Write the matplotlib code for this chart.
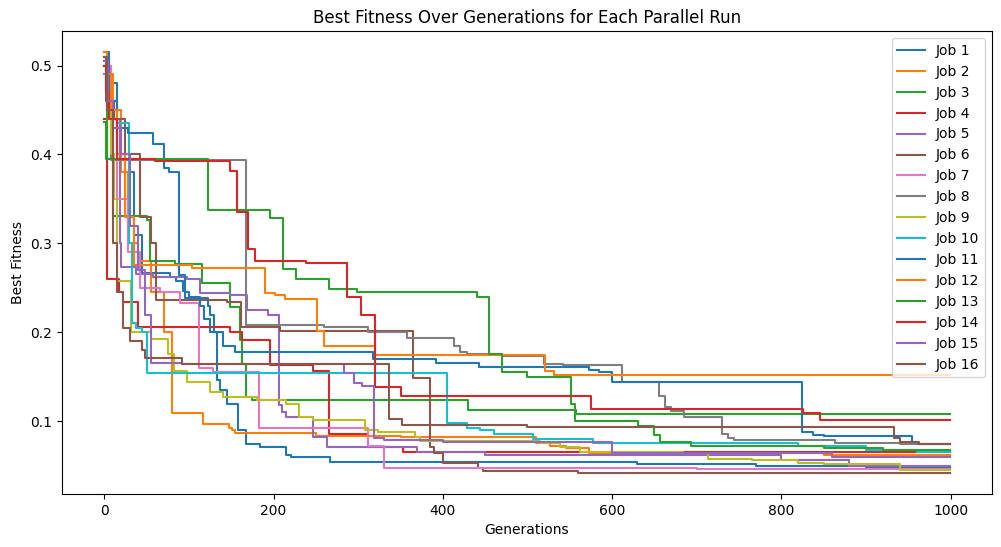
import matplotlib.pyplot as plt

last_gen = 999

# generation at which the best fitness improved, and the new best value
job1_gen = [0, 5, 15, 25, 35, 45, 78, 85, 93, 95, 122, 125, 130, 133, 137, 145, 158, 168, 184, 215, 220, 267, 630, 770, 900]
job1_val = [0.505, 0.48, 0.40, 0.38, 0.31, 0.267, 0.262, 0.258, 0.247, 0.239, 0.23, 0.219, 0.20, 0.146, 0.135, 0.12, 0.09, 0.075, 0.071, 0.062, 0.06, 0.054, 0.052, 0.05, 0.048]

job2_gen = [0, 4, 10, 20, 28, 40, 55, 70, 80, 117, 147, 151, 155, 250, 350, 510, 527, 545, 573, 850]
job2_val = [0.515, 0.49, 0.45, 0.38, 0.30, 0.28, 0.245, 0.20, 0.109, 0.097, 0.093, 0.09, 0.087, 0.084, 0.082, 0.076, 0.072, 0.07, 0.064, 0.062]

job3_gen = [0, 2, 10, 51, 54, 84, 116, 149, 160, 163, 167, 175, 430, 557]
job3_val = [0.436, 0.395, 0.331, 0.326, 0.28, 0.277, 0.255, 0.228, 0.191, 0.165, 0.127, 0.124, 0.113, 0.108]

job4_gen = [0, 3, 17, 22, 40, 149, 163, 196, 246, 266, 312, 353]
job4_val = [0.44, 0.26, 0.245, 0.234, 0.206, 0.20, 0.191, 0.163, 0.157, 0.086, 0.071, 0.066]

job5_gen = [0, 3, 10, 18, 20, 37, 58, 98, 113, 149, 169, 193, 206, 210, 215, 246, 263, 370, 450, 800, 880]
job5_val = [0.51, 0.46, 0.44, 0.30, 0.274, 0.266, 0.262, 0.26, 0.244, 0.242, 0.225, 0.22, 0.118, 0.11, 0.105, 0.082, 0.071, 0.065, 0.062, 0.057, 0.05]

job6_gen = [0, 2, 12, 25, 42, 55, 61, 145, 161, 208, 365, 385, 390, 400, 442, 447, 560]
job6_val = [0.51, 0.46, 0.44, 0.40, 0.33, 0.30, 0.236, 0.234, 0.206, 0.202, 0.149, 0.071, 0.064, 0.053, 0.048, 0.044, 0.042]

job7_gen = [0, 8, 15, 28, 42, 66, 90, 112, 128, 183, 312, 330, 700]
job7_val = [0.50, 0.44, 0.35, 0.29, 0.25, 0.245, 0.233, 0.16, 0.155, 0.092, 0.072, 0.047, 0.046]

job8_gen = [0, 3, 8, 168, 260, 312, 358, 413, 420, 428, 470, 519, 542, 612, 655, 663, 670, 685, 730, 737, 744, 863, 940]
job8_val = [0.51, 0.45, 0.394, 0.208, 0.206, 0.20, 0.194, 0.185, 0.178, 0.176, 0.174, 0.165, 0.163, 0.144, 0.129, 0.116, 0.112, 0.105, 0.086, 0.081, 0.079, 0.076, 0.075]

job9_gen = [0, 3, 8, 12, 15, 32, 55, 75, 82, 98, 125, 140, 180, 215, 230, 246, 308, 323, 367, 373, 515, 538, 562, 684, 713, 765, 820, 850, 940]
job9_val = [0.50, 0.45, 0.40, 0.35, 0.258, 0.20, 0.193, 0.176, 0.157, 0.144, 0.133, 0.127, 0.124, 0.12, 0.105, 0.101, 0.09, 0.088, 0.082, 0.078, 0.076, 0.071, 0.066, 0.064, 0.058, 0.056, 0.053, 0.052, 0.045]

job10_gen = [0, 5, 15, 29, 33, 37, 45, 50, 405, 428, 444, 460, 507, 578, 820, 900, 960]
job10_val = [0.49, 0.46, 0.435, 0.30, 0.21, 0.205, 0.20, 0.154, 0.098, 0.093, 0.09, 0.086, 0.08, 0.076, 0.072, 0.068, 0.066]

job11_gen = [0, 5, 15, 28, 58, 70, 77, 88, 95, 100, 113, 118, 125, 140, 155, 318, 392, 443, 573, 585, 600, 825, 838, 850, 955, 962]
job11_val = [0.515, 0.46, 0.43, 0.424, 0.412, 0.385, 0.38, 0.265, 0.245, 0.24, 0.23, 0.215, 0.20, 0.185, 0.178, 0.17, 0.166, 0.161, 0.158, 0.156, 0.144, 0.088, 0.085, 0.083, 0.077, 0.074]

job12_gen = [0, 3, 8, 15, 25, 35, 104, 190, 202, 214, 251, 259, 320, 521, 531]
job12_val = [0.515, 0.49, 0.45, 0.40, 0.33, 0.276, 0.272, 0.244, 0.242, 0.237, 0.202, 0.185, 0.175, 0.157, 0.152]

job13_gen = [0, 3, 123, 196, 211, 226, 266, 299, 440, 455, 470, 500, 551, 556, 631, 649, 657, 693, 850, 920]
job13_val = [0.50, 0.395, 0.338, 0.329, 0.271, 0.26, 0.249, 0.245, 0.24, 0.176, 0.155, 0.15, 0.12, 0.10, 0.095, 0.085, 0.077, 0.072, 0.07, 0.068]

job14_gen = [0, 2, 5, 15, 60, 149, 157, 170, 178, 238, 287, 303, 320, 350, 575, 826, 846]
job14_val = [0.50, 0.47, 0.44, 0.395, 0.393, 0.382, 0.335, 0.294, 0.28, 0.278, 0.24, 0.22, 0.139, 0.128, 0.114, 0.109, 0.102]

job15_gen = [0, 4, 10, 20, 30, 40, 48, 55, 92, 283, 295, 305, 319, 330, 400, 600, 860]
job15_val = [0.505, 0.46, 0.43, 0.40, 0.32, 0.27, 0.22, 0.166, 0.165, 0.154, 0.143, 0.14, 0.081, 0.079, 0.077, 0.064, 0.06]

job16_gen = [0, 3, 10, 15, 22, 30, 45, 48, 92, 200, 336, 352, 500, 933, 940, 963]
job16_val = [0.51, 0.45, 0.30, 0.245, 0.205, 0.19, 0.18, 0.171, 0.165, 0.164, 0.103, 0.096, 0.094, 0.081, 0.077, 0.074]

jobs = [
    (job1_gen, job1_val), (job2_gen, job2_val), (job3_gen, job3_val), (job4_gen, job4_val),
    (job5_gen, job5_val), (job6_gen, job6_val), (job7_gen, job7_val), (job8_gen, job8_val),
    (job9_gen, job9_val), (job10_gen, job10_val), (job11_gen, job11_val), (job12_gen, job12_val),
    (job13_gen, job13_val), (job14_gen, job14_val), (job15_gen, job15_val), (job16_gen, job16_val),
]

plt.figure(figsize=(10.01, 5.47), dpi=100)
plt.subplots_adjust(left=0.062, right=0.991, top=0.943, bottom=0.097)

for i, (gens, vals) in enumerate(jobs):
    # hold the last value until the final generation
    plt.plot(gens + [last_gen], vals + [vals[-1]], drawstyle='steps-post', label=f"Job {i + 1}")

plt.title("Best Fitness Over Generations for Each Parallel Run")
plt.xlabel("Generations")
plt.ylabel("Best Fitness")
plt.legend(loc='upper right')
plt.savefig("out.png", dpi=100)
